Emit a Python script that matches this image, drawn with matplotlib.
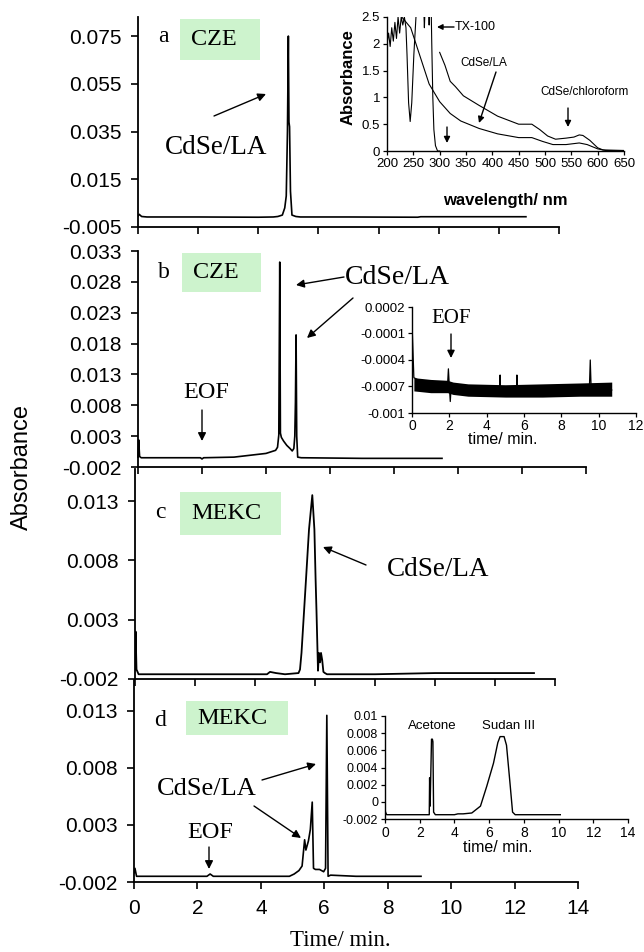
import numpy as np
import matplotlib.pyplot as plt
from matplotlib.patches import FancyArrowPatch, Rectangle
from matplotlib.ticker import FormatStrFormatter

plt.rcParams['axes.unicode_minus'] = False
plt.rcParams['font.family'] = 'Liberation Sans'
SERIF = 'Liberation Serif'
GREEN = '#cdf3cd'

# ---------------- data ----------------
# panel a: CZE of CdSe/LA (time in min, absorbance)
ta = [0, 0.04, 0.12, 0.3, 2.0, 4.0, 4.5, 4.65, 4.8, 4.88, 4.93, 4.97, 5.0, 5.02, 5.04,
      5.07, 5.12, 5.25, 5.4, 7.0, 9.3, 9.4, 11.0, 12.9]
va = [-0.0004, 0.0003, -0.0006, -0.0008, -0.0008, -0.0009, -0.0008, -0.0006, 0.0, 0.003,
      0.008, 0.035, 0.075, 0.039, 0.037, 0.01, 0.0, -0.0006, -0.0008, -0.0008, -0.0009,
      -0.0007, -0.0007, -0.0007]

# panel b: CZE, two CdSe/LA peaks
tb = [0, 0.02, 0.05, 0.1, 0.2, 1.95, 2.0, 2.05, 3.0, 3.5, 4.0, 4.3, 4.36, 4.4, 4.43, 4.45,
      4.48, 4.55, 4.65, 4.75, 4.82, 4.87, 4.9, 4.92, 4.94, 4.96, 4.99, 5.1, 7.0, 9.5]
vb = [-0.0004, 0.0024, -0.0003, -0.0005, -0.0005, -0.0005, -0.0007, -0.0005, -0.0004,
      -0.0001, 0.0002, 0.0007, 0.0012, 0.0032, 0.0312, 0.0035, 0.0028, 0.0022, 0.0015,
      0.0010, 0.0006, 0.0010, 0.0030, 0.0085, 0.0194, 0.0030, -0.0004, -0.0005, -0.0006,
      -0.0006]

# panel c: MEKC
tc = [0, 0.02, 0.05, 0.12, 2.0, 4.4, 4.5, 4.7, 5.0, 5.45, 5.5, 5.55, 5.7, 5.8, 5.91, 5.98,
      6.02, 6.05, 6.1, 6.13, 6.17, 6.2, 6.24, 6.28, 6.33, 6.4, 8.0, 10.0, 13.3]
vc = [-0.0012, 0.002, -0.0012, -0.0016, -0.0016, -0.0016, -0.0014, -0.0015, -0.0016,
      -0.0015, -0.0012, 0.0002, 0.0064, 0.0106, 0.0135, 0.0106, 0.0064, 0.0037, -0.0013,
      0.0002, -0.0006, 0.0002, -0.0004, -0.0014, -0.0015, -0.0016, -0.0016, -0.0015,
      -0.0015]

# panel d: MEKC
td = [0, 0.03, 0.08, 1.0, 2.3, 2.4, 2.5, 4.0, 4.9, 5.05, 5.2, 5.3, 5.38, 5.42, 5.5, 5.56,
      5.62, 5.66, 5.72, 5.85, 5.98, 6.04, 6.08, 6.12, 6.2, 7.0, 9.05]
vd = [-0.0012, -0.0008, -0.0015, -0.0015, -0.0015, -0.0013, -0.0015, -0.0015, -0.0015,
      -0.0013, -0.001, -0.0006, 0.0017, 0.0008, 0.0016, 0.0026, 0.005, -0.0008, -0.0009,
      -0.0009, -0.0011, -0.0008, 0.0126, -0.0015, -0.0014, -0.0015, -0.0015]

# inset a: UV-vis spectra (wavelength nm, absorbance)
wl_tx = [200, 203, 206, 209, 212, 215, 218, 221, 224, 227, 230, 233, 236, 238, 241, 244,
         247, 251, 255, 258, 270, 271, 272, 279, 280, 281, 284, 285, 287, 289, 292, 296, 300]
ab_tx = [2.0, 2.2, 1.95, 2.3, 2.05, 2.4, 2.1, 2.5, 2.2, 2.5, 2.35, 2.5, 2.3, 1.8, 0.9, 0.55,
         0.9, 1.8, 2.5, 2.6, 2.6, 2.3, 2.6, 2.6, 2.35, 2.6, 2.6, 2.0, 1.0, 0.4, 0.1, 0.0, 0.0]
wl_chl = [300, 310, 320, 330, 345, 375, 410, 450, 475, 490, 505, 520, 540, 555, 565, 572,
          585, 600, 610, 650]
ab_chl = [1.84, 1.6, 1.3, 1.2, 1.03, 0.85, 0.65, 0.5, 0.5, 0.4, 0.28, 0.22, 0.24, 0.26,
          0.3, 0.29, 0.2, 0.06, 0.02, 0.01]
wl_la = [228, 245, 255, 265, 280, 300, 320, 340, 375, 410, 450, 475, 495, 515, 540, 565,
         580, 600, 615, 650]
ab_la = [2.5, 2.3, 2.0, 1.7, 1.25, 0.92, 0.7, 0.56, 0.42, 0.32, 0.25, 0.25, 0.18, 0.12,
         0.12, 0.15, 0.12, 0.04, 0.01, 0.0]

# inset b: baseline with EOF (spikes + noise envelope)
tib = [0.0, 0.02, 0.1, 1.0, 1.9, 1.95, 2.0, 2.05, 2.1, 3.0, 4.7, 4.72, 4.74, 5.6, 5.62,
       5.64, 9.5, 9.55, 9.6, 10.7]
vib = [-0.0009, -0.0001, -0.0006, -0.0007, -0.0007, -0.0005, -0.0007, -0.00087, -0.0007,
       -0.00074, -0.00074, -0.00057, -0.00074, -0.00074, -0.00057, -0.00074, -0.00074,
       -0.0004, -0.00074, -0.00074]
t_env = [0.1, 1.0, 1.9, 2.2, 3.0, 5.0, 7.0, 9.0, 10.7]
env_hi = [-0.0006, -0.00062, -0.00063, -0.00065, -0.00067, -0.00068, -0.00067, -0.00066,
          -0.00065]
env_lo = [-0.00075, -0.00077, -0.00077, -0.00079, -0.00081, -0.00082, -0.00082, -0.00081,
          -0.00081]

# inset d: acetone and Sudan III markers
tid = [0, 0.05, 0.1, 1.0, 2.0, 2.55, 2.57, 2.6, 2.68, 2.73, 2.76, 2.8, 2.9, 4.0, 4.2, 4.5,
       5.0, 5.5, 5.86, 6.25, 6.5, 6.63, 6.86, 7.0, 7.2, 7.35, 7.5, 8.5, 10.1]
vid = [-0.001, -0.0013, -0.0015, -0.0015, -0.0015, -0.0015, 0.0028, -0.0005, 0.0073,
       0.0073, 0.007, -0.0012, -0.0015, -0.0015, -0.0014, -0.0014, -0.0013, -0.0005,
       0.0018, 0.0045, 0.0069, 0.0076, 0.0076, 0.0066, 0.0022, -0.0012, -0.0015, -0.0015,
       -0.0015]

yt_a = [-0.005, 0.015, 0.035, 0.055, 0.075]
yt_b = [-0.002, 0.003, 0.008, 0.013, 0.018, 0.023, 0.028, 0.033]
yt_cd = [-0.002, 0.003, 0.008, 0.013]
yt_ib = [0.0002, -0.0001, -0.0004, -0.0007, -0.001]
yl_ib = ['0.0002', '-0.0001', '-0.0004', '-0.0007', '-0.001']
yt_id = [0.01, 0.008, 0.006, 0.004, 0.002, 0, -0.002]
yl_id = ['0.01', '0.008', '0.006', '0.004', '0.002', '0', '-0.002']
yt_ia = [0, 0.5, 1, 1.5, 2, 2.5]
yl_ia = ['0', '0.5', '1', '1.5', '2', '2.5']

# ---------------- layout helpers (pixels from top-left) ----------------
W, H = 644, 952
fig = plt.figure(figsize=(W / 100, H / 100), dpi=100)


def box(l, t, r, b):
    return [l / W, 1 - b / H, (r - l) / W, (b - t) / H]


def fpt(x, y):
    return (x / W, 1 - y / H)


def label(x, y, s, size, family=SERIF, ha='center', **kw):
    fig.text(x / W, 1 - y / H, s, fontsize=size, family=family, ha=ha, va='center', **kw)


def arrow(x0, y0, x1, y1, scale=12, lw=1.0):
    fig.add_artist(FancyArrowPatch(fpt(x0, y0), fpt(x1, y1), transform=fig.transFigure,
                                   arrowstyle='-|>', mutation_scale=scale, lw=lw,
                                   color='black', shrinkA=0, shrinkB=0))


def tag(l, t, r, b, text, size=17.5):
    fig.add_artist(Rectangle(fpt(l, b), (r - l) / W, (b - t) / H, transform=fig.transFigure,
                             facecolor=GREEN, edgecolor='none', zorder=1))
    label(l + 11, (t + b) / 2, text, size, ha='left')


def main_axes(rect, ylim, yticks, xlabels=False):
    ax = fig.add_axes(rect)
    ax.patch.set_alpha(0)
    ax.set_xlim(0, 14)
    ax.set_ylim(*ylim)
    ax.set_xticks(range(0, 15, 2))
    ax.set_yticks(yticks)
    ax.yaxis.set_major_formatter(FormatStrFormatter('%.3f'))
    for s in ['top', 'right']:
        ax.spines[s].set_visible(False)
    for s in ['left', 'bottom']:
        ax.spines[s].set_linewidth(1.3)
    ax.tick_params(direction='out', length=5, width=1.2, pad=7, labelsize=15)
    ax.tick_params(axis='x', labelbottom=xlabels)
    return ax


def inset_axes(rect, xlim, ylim, xticks, yticks, ylabels, xsize, ysize, xpad=2):
    ax = fig.add_axes(rect)
    ax.patch.set_alpha(0)
    ax.set_xlim(*xlim)
    ax.set_ylim(*ylim)
    ax.set_xticks(xticks)
    ax.set_yticks(yticks)
    ax.set_yticklabels(ylabels)
    for s in ['top', 'right']:
        ax.spines[s].set_visible(False)
    for s in ['left', 'bottom']:
        ax.spines[s].set_linewidth(1.0)
    ax.tick_params(direction='out', length=3, width=0.9, pad=2)
    ax.tick_params(axis='x', labelsize=xsize, pad=xpad)
    ax.tick_params(axis='y', labelsize=ysize)
    return ax


# ---------------- main panels ----------------
axa = main_axes(box(138, 17, 559, 227), (-0.005, 0.083), yt_a)
axa.plot(ta, va, color='black', lw=1.2)

axb = main_axes(box(138, 251, 586, 467), (-0.002, 0.033), yt_b)
axb.plot(tb, vb, color='black', lw=1.2, clip_on=False)

axc = main_axes(box(135, 469, 555, 679), (-0.002, 0.0157), yt_cd)
axc.plot(tc, vc, color='black', lw=1.3)

axd = main_axes(box(134, 680, 578, 882), (-0.002, 0.0157), yt_cd, xlabels=True)
axd.plot(td, vd, color='black', lw=1.2)

label(22, 467, 'Absorbance', 17, family='Liberation Sans', rotation=90)
label(340, 941, 'Time/ min.', 16.5)

# ---------------- inset a: spectra ----------------
ia = inset_axes(box(387, 17, 624, 151), (200, 650), (0, 2.5), range(200, 651, 50),
                yt_ia, yl_ia, 9.5, 9.5)
ia.plot(wl_tx, ab_tx, color='black', lw=0.8)
ia.plot(wl_chl, ab_chl, color='black', lw=0.8)
ia.plot(wl_la, ab_la, color='black', lw=0.8)
label(348, 77, 'Absorbance', 12, family='Liberation Sans', rotation=90, weight='bold')
label(505, 200, 'wavelength/ nm', 12, family='Liberation Sans', weight='bold')
label(455, 27, 'TX-100', 9, family='Liberation Sans', ha='left')
arrow(454, 27, 437, 27, scale=8)
label(484, 63, 'CdSe/LA', 8.5, family='Liberation Sans')
arrow(496, 72, 479, 123, scale=9)
label(585, 92, 'CdSe/chloroform', 8.5, family='Liberation Sans')
arrow(568, 108, 568, 127, scale=9)
arrow(447, 127, 447, 143, scale=9)

# ---------------- inset b: EOF baseline ----------------
ib = inset_axes(box(412, 307, 636, 413), (0, 12), (-0.001, 0.0002), range(0, 13, 2),
                yt_ib, yl_ib, 10, 9.5, xpad=1)
ib.fill_between(t_env, env_lo, env_hi, color='black', lw=0)
ib.plot(tib, vib, color='black', lw=0.9)
label(503, 439, 'time/ min.', 11.5, family='Liberation Sans')
label(451, 319, 'EOF', 15)
arrow(451, 334, 451, 358, scale=11)

# ---------------- inset d: markers ----------------
idd = inset_axes(box(385, 716, 628, 819), (0, 14), (-0.002, 0.01), range(0, 15, 2),
                 yt_id, yl_id, 10, 9)
idd.plot(tid, vid, color='black', lw=1.0)
label(432, 726, 'Acetone', 9.5, family='Liberation Sans')
label(509, 726, 'Sudan III', 9.5, family='Liberation Sans')
label(498, 848, 'time/ min.', 11.5, family='Liberation Sans')

# ---------------- panel annotations ----------------
label(163, 37, 'a', 17)
tag(180, 19, 260, 60, 'CZE')
label(216, 148, 'CdSe/LA', 19.5)
arrow(214, 116, 266, 94)

label(164, 273, 'b', 17)
tag(182, 253, 261, 292, 'CZE')
label(345, 277, 'CdSe/LA', 20, ha='left')
arrow(344, 277, 296, 285)
arrow(353, 298, 307, 338)
label(206, 393, 'EOF', 17.5)
arrow(202, 410, 202, 441)

label(160, 513, 'c', 17)
tag(180, 492, 281, 535, 'MEKC')
label(387, 570, 'CdSe/LA', 19.5, ha='left')
arrow(366, 565, 323, 547)

label(160, 721, 'd', 17)
tag(186, 701, 288, 735, 'MEKC')
label(207, 789, 'CdSe/LA', 19)
arrow(262, 780, 316, 764)
arrow(254, 806, 301, 838)
label(210, 833, 'EOF', 17.5)
arrow(209, 847, 209, 869)

fig.savefig('out.png', dpi=100)
